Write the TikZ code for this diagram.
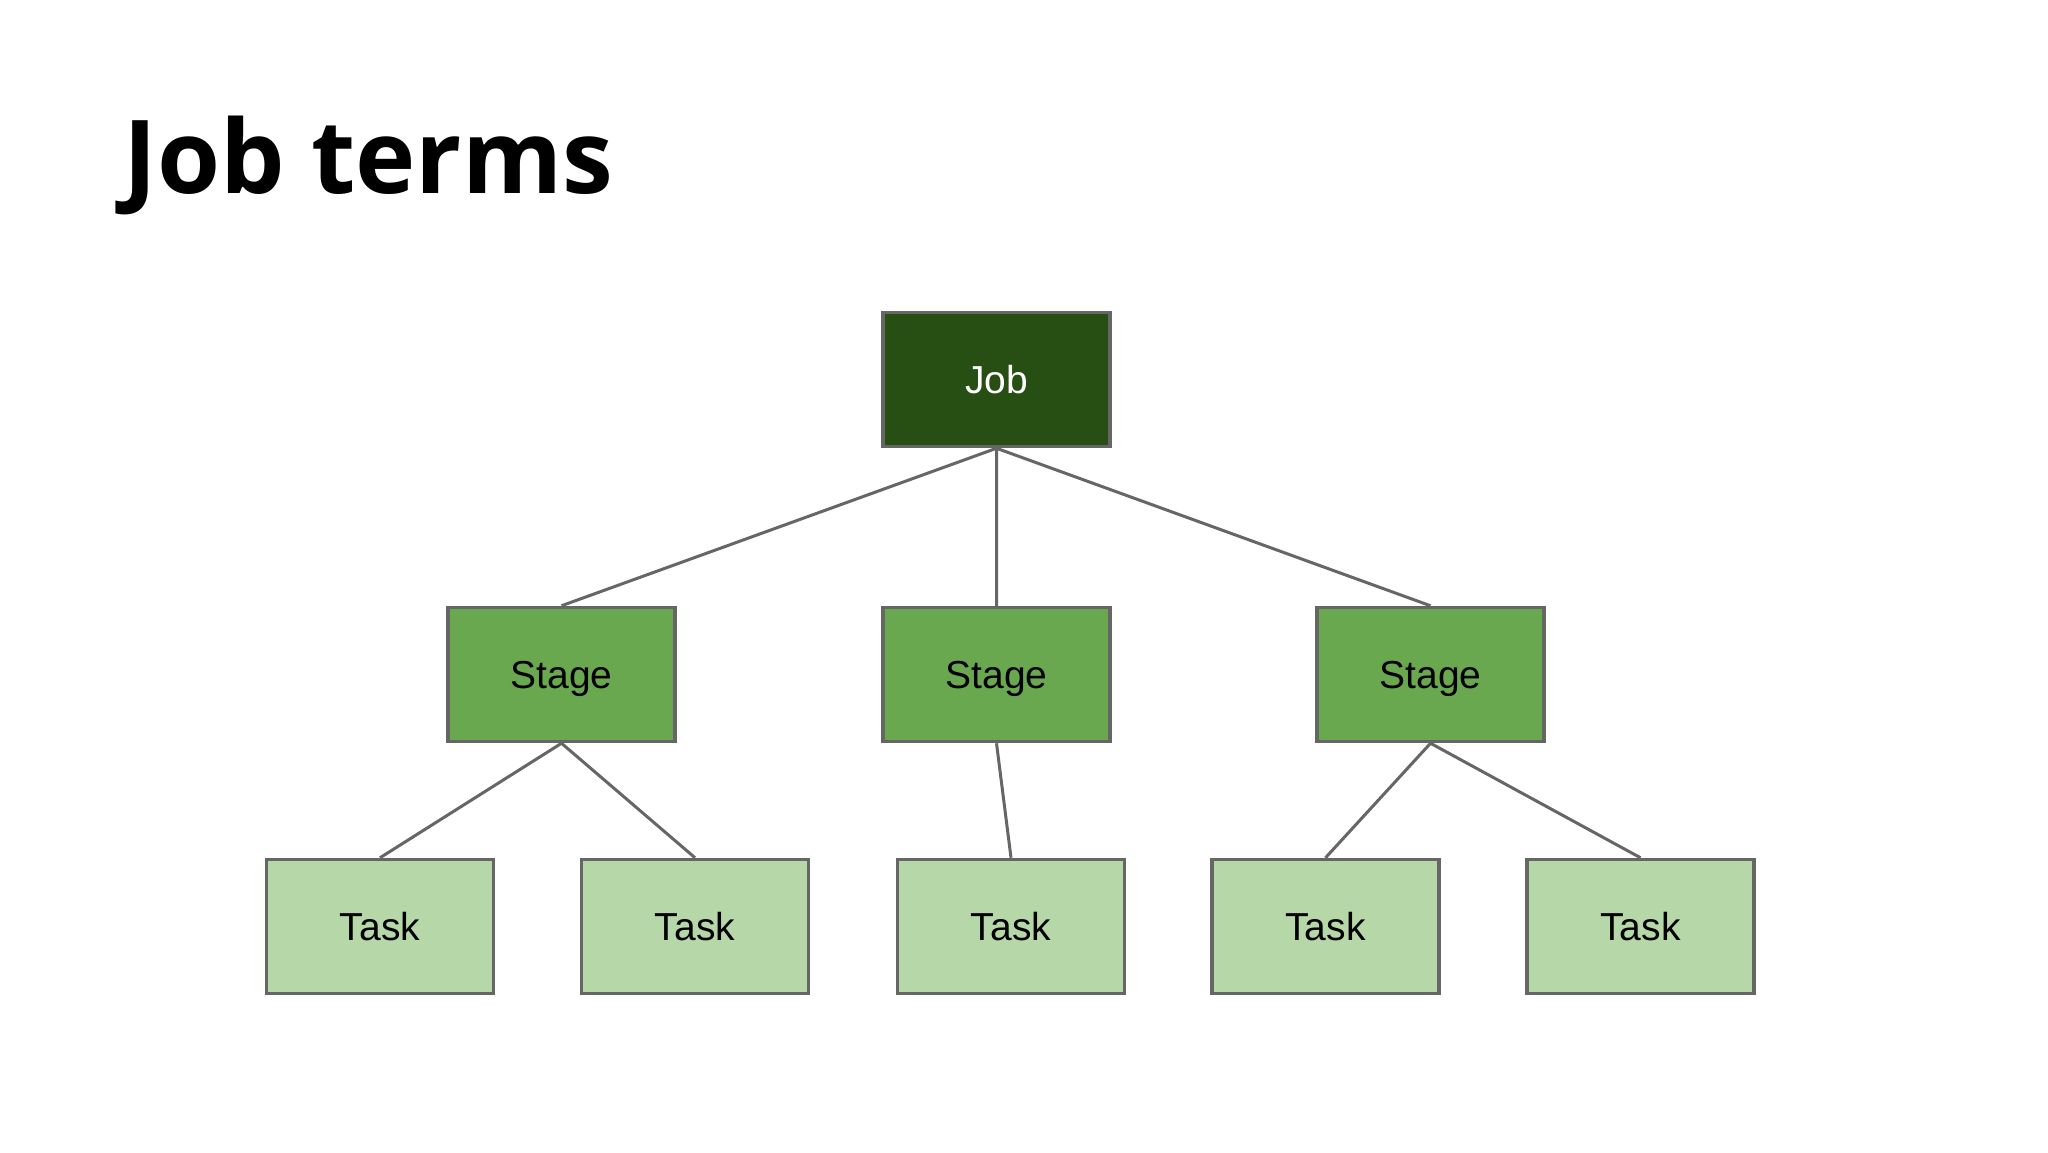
\documentclass[tikz,border=0pt]{standalone}
\usepackage{fontspec}
\setmainfont{Liberation Sans}
\newfontfamily\titlefont{Open Sans}
\usepackage{tikz}
\definecolor{jobgreen}{HTML}{274E13}
\definecolor{stagegreen}{HTML}{6AA84F}
\definecolor{taskgreen}{HTML}{B6D7A8}
\definecolor{edgegray}{HTML}{666666}
\tikzset{box/.style={draw=edgegray,line width=1.75pt,rectangle,
		minimum width=113.5pt,minimum height=67pt,inner sep=0pt,
		text height=14pt,text depth=0pt,
		font=\fontsize{19.5}{22}\selectfont},
	jobbox/.style={box,fill=jobgreen,text=white},
	stagebox/.style={box,fill=stagegreen},
	taskbox/.style={box,fill=taskgreen},
	link/.style={draw=edgegray,line width=1.5pt}}

\begin{document}
\begin{tikzpicture}[x=0.5pt,y=-0.5pt]
\useasboundingbox (0,0) rectangle (2048,1152);
\node [anchor=base west,inner sep=0pt] (title) at (123,193)
  {\titlefont\bfseries\fontsize{51}{60}\selectfont Job terms};
% job
\node [jobbox] (job) at (996.5,379.5) {Job};
% stages
\node [stagebox] (s1) at (561.5,674.5) {Stage};
\node [stagebox] (s2) at (996.5,674.5) {Stage};
\node [stagebox] (s3) at (1430.5,674.5) {Stage};
% tasks
\node [taskbox] (t1) at (380,926.5) {Task};
\node [taskbox] (t2) at (695,926.5) {Task};
\node [taskbox] (t3) at (1011,926.5) {Task};
\node [taskbox] (t4) at (1325.5,926.5) {Task};
\node [taskbox] (t5) at (1640.5,926.5) {Task};
\path [link] (job.south) -- (s1.north)
  (job.south) -- (s2.north)
  (job.south) -- (s3.north);
\path [link] (s1.south) -- (t1.north)
  (s1.south) -- (t2.north);
\path [link] (s2.south) -- (t3.north);
\path [link] (s3.south) -- (t4.north)
  (s3.south) -- (t5.north);
\end{tikzpicture}
\end{document}
